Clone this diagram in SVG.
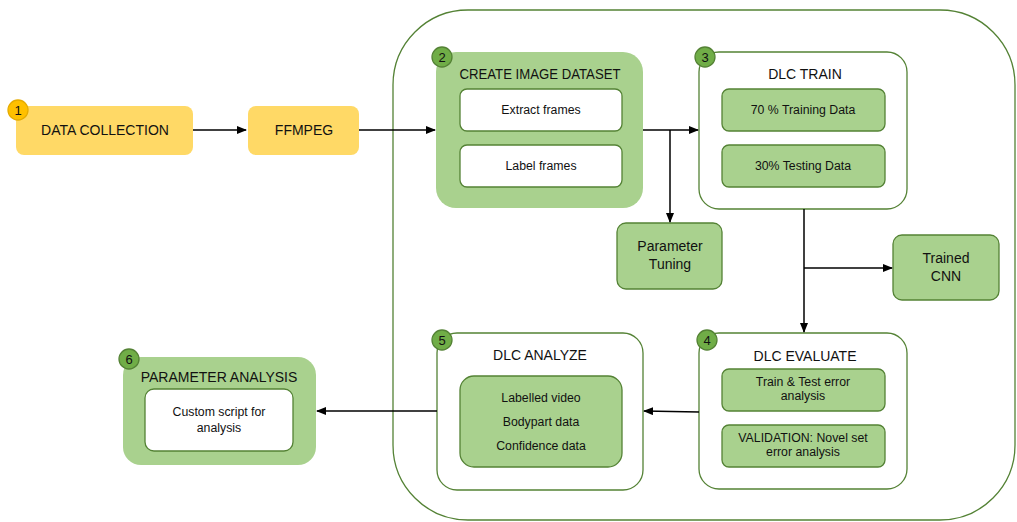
<svg xmlns="http://www.w3.org/2000/svg" width="1017" height="522" viewBox="0 0 1017 522">
<defs>
<marker id="arr" markerWidth="10" markerHeight="8" refX="9" refY="4" orient="auto" markerUnits="userSpaceOnUse">
<path d="M0,0 L10,4 L0,8 Z" fill="#000"/>
</marker>
<style>
text{font-family:"Liberation Sans",Arial,sans-serif;fill:#111;text-anchor:middle}
.t{font-size:14px}
.s{font-size:12.3px}
.b{font-size:13px}
.yel{fill:#FFD966}
.lg{fill:#A9D18E}
.lgs{fill:#A9D18E;stroke:#548235;stroke-width:1.3}
.wh{fill:#fff;stroke:#548235;stroke-width:1.3}
.bg{fill:#70AD47;stroke:#548235;stroke-width:1.3}
.by{fill:#FFC000;stroke:#E6AC00;stroke-width:1.3}
.ln{fill:none;stroke:#000;stroke-width:1.5}
</style>
</defs>
<rect id="container" x="393" y="10" width="622" height="510" rx="75" fill="none" stroke="#548235" stroke-width="1.3"/>
<g id="node1">
<rect class="yel" x="16" y="106" width="177" height="49" rx="8"/>
<circle class="by" cx="18" cy="110" r="10"/>
<text class="b" x="18" y="115">1</text>
<text class="t" x="105" y="135">DATA COLLECTION</text>
</g>
<g id="ffmpeg">
<rect class="yel" x="248" y="106" width="111" height="49" rx="8"/>
<text class="t" x="304" y="135">FFMPEG</text>
</g>
<g id="node2">
<rect class="lg" x="436" y="52" width="207" height="156" rx="20"/>
<circle class="bg" cx="442" cy="57" r="10"/>
<text class="b" x="442" y="62">2</text>
<text class="t" x="540" y="79" textLength="161" lengthAdjust="spacingAndGlyphs">CREATE IMAGE DATASET</text>
<rect class="wh" x="460" y="89" width="162" height="42" rx="7"/>
<text class="s" x="541" y="114">Extract frames</text>
<rect class="wh" x="460" y="145" width="162" height="42" rx="7"/>
<text class="s" x="541" y="170">Label frames</text>
</g>
<g id="node3">
<rect class="wh" x="699" y="52" width="208" height="157" rx="20"/>
<circle class="bg" cx="705" cy="57" r="10"/>
<text class="b" x="705" y="62">3</text>
<text class="t" x="805" y="79">DLC TRAIN</text>
<rect class="lgs" x="722" y="89" width="163" height="42" rx="7"/>
<text class="s" x="803" y="114">70 % Training Data</text>
<rect class="lgs" x="722" y="145" width="163" height="42" rx="7"/>
<text class="s" x="803" y="170">30% Testing Data</text>
</g>
<g id="tuning">
<rect class="lgs" x="617" y="223" width="105" height="66" rx="9"/>
<text class="t" x="670" y="251">Parameter</text>
<text class="t" x="670" y="269">Tuning</text>
</g>
<g id="cnn">
<rect class="lgs" x="893" y="235" width="106" height="65" rx="9"/>
<text class="t" x="946" y="263">Trained</text>
<text class="t" x="946" y="281">CNN</text>
</g>
<g id="node4">
<rect class="wh" x="699" y="333" width="208" height="156" rx="20"/>
<circle class="bg" cx="707" cy="340" r="10"/>
<text class="b" x="707" y="345">4</text>
<text class="t" x="805" y="361">DLC EVALUATE</text>
<rect class="lgs" x="722" y="369" width="163" height="42" rx="7"/>
<text class="s" x="803" y="386">Train &amp; Test error</text>
<text class="s" x="803" y="400">analysis</text>
<rect class="lgs" x="722" y="425" width="163" height="42" rx="7"/>
<text class="s" x="803" y="442">VALIDATION: Novel set</text>
<text class="s" x="803" y="456">error analysis</text>
</g>
<g id="node5">
<rect class="wh" x="437" y="333" width="206" height="157" rx="20"/>
<circle class="bg" cx="442" cy="340" r="10"/>
<text class="b" x="442" y="345">5</text>
<text class="t" x="540" y="360">DLC ANALYZE</text>
<rect class="lgs" x="460" y="376" width="162" height="91" rx="14"/>
<text class="s" x="541" y="402">Labelled video</text>
<text class="s" x="541" y="426">Bodypart data</text>
<text class="s" x="541" y="450">Confidence data</text>
</g>
<g id="node6">
<rect class="lg" x="123" y="357" width="193" height="108" rx="18"/>
<circle class="bg" cx="129" cy="359" r="10"/>
<text class="b" x="129" y="364">6</text>
<text class="t" x="219" y="382">PARAMETER ANALYSIS</text>
<rect class="wh" x="145" y="389" width="148" height="62" rx="9"/>
<text class="s" x="219" y="416">Custom script for</text>
<text class="s" x="219" y="432">analysis</text>
</g>
<g id="connectors">
<line class="ln" x1="193" y1="130" x2="246" y2="130" marker-end="url(#arr)"/>
<line class="ln" x1="359" y1="130" x2="435" y2="130" marker-end="url(#arr)"/>
<line class="ln" x1="643" y1="130" x2="698" y2="130" marker-end="url(#arr)"/>
<line class="ln" x1="670" y1="130" x2="670" y2="222" marker-end="url(#arr)"/>
<line class="ln" x1="804" y1="209" x2="804" y2="332" marker-end="url(#arr)"/>
<line class="ln" x1="804" y1="268" x2="892" y2="268" marker-end="url(#arr)"/>
<line class="ln" x1="699" y1="412" x2="644" y2="411" marker-end="url(#arr)"/>
<line class="ln" x1="437" y1="411" x2="317" y2="411" marker-end="url(#arr)"/>
</g>
</svg>
